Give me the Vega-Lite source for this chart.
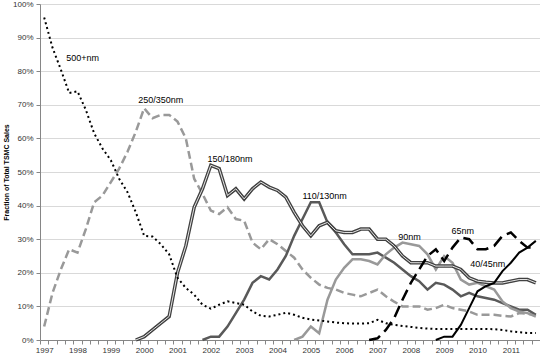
{
  "$schema": "https://vega.github.io/schema/vega-lite/v6.json",
  "width": 500,
  "height": 336,
  "autosize": "none",
  "padding": {"left": 40, "top": 4, "right": 0, "bottom": 16},
  "background": "white",
  "config": {"view": {"stroke": null}, "font": "Liberation Sans"},
  "datasets": {
    "nodes": [
      {"t": 1997, "n500": 96, "n350": 4},
      {"t": 1997.25, "n500": 87, "n350": 14},
      {"t": 1997.5, "n500": 80.5, "n350": 21},
      {"t": 1997.75, "n500": 73.5, "n350": 27},
      {"t": 1998, "n500": 74, "n350": 26},
      {"t": 1998.25, "n500": 68.5, "n350": 33},
      {"t": 1998.5, "n500": 61.5, "n350": 41},
      {"t": 1998.75, "n500": 57, "n350": 43},
      {"t": 1999, "n500": 53.5, "n350": 47},
      {"t": 1999.25, "n500": 48, "n350": 51},
      {"t": 1999.5, "n500": 44, "n350": 56},
      {"t": 1999.75, "n500": 38, "n350": 62, "n180": 0},
      {"t": 2000, "n500": 31, "n350": 69, "n180": 1},
      {"t": 2000.25, "n500": 30.8, "n350": 66, "n180": 3},
      {"t": 2000.5, "n500": 28.5, "n350": 67, "n180": 5},
      {"t": 2000.75, "n500": 25.5, "n350": 67, "n180": 7},
      {"t": 2001, "n500": 18.5, "n350": 65, "n180": 20},
      {"t": 2001.25, "n500": 15.5, "n350": 60, "n180": 28},
      {"t": 2001.5, "n500": 13.5, "n350": 48, "n180": 39.5},
      {"t": 2001.75, "n500": 10.5, "n350": 43.5, "n180": 45, "n130": 0},
      {"t": 2002, "n500": 9.3, "n350": 38.5, "n180": 52, "n130": 1},
      {"t": 2002.25, "n500": 10.5, "n350": 37.5, "n180": 51, "n130": 1},
      {"t": 2002.5, "n500": 11.5, "n350": 39.5, "n180": 43, "n130": 4},
      {"t": 2002.75, "n500": 11, "n350": 36, "n180": 45, "n130": 8},
      {"t": 2003, "n500": 10.5, "n350": 35.5, "n180": 42, "n130": 12},
      {"t": 2003.25, "n500": 8.5, "n350": 29, "n180": 45, "n130": 17},
      {"t": 2003.5, "n500": 7.2, "n350": 27, "n180": 47, "n130": 19},
      {"t": 2003.75, "n500": 7, "n350": 30, "n180": 45.5, "n130": 18},
      {"t": 2004, "n500": 7.5, "n350": 28.5, "n180": 44.5, "n130": 21},
      {"t": 2004.25, "n500": 8.1, "n350": 26.5, "n180": 42.5, "n130": 25},
      {"t": 2004.5, "n500": 7.5, "n350": 24.5, "n180": 38, "n130": 31, "n90": 0},
      {"t": 2004.75, "n500": 6.6, "n350": 21, "n180": 34, "n130": 36, "n90": 1},
      {"t": 2005, "n500": 6.1, "n350": 18.5, "n180": 31, "n130": 41, "n90": 4},
      {"t": 2005.25, "n500": 5.8, "n350": 16.5, "n180": 34, "n130": 41, "n90": 2},
      {"t": 2005.5, "n500": 5.5, "n350": 15.5, "n180": 35, "n130": 35, "n90": 12},
      {"t": 2005.75, "n500": 5.2, "n350": 15, "n180": 32.5, "n130": 32, "n90": 18},
      {"t": 2006, "n500": 5, "n350": 14, "n180": 32, "n130": 28.5, "n90": 21.5},
      {"t": 2006.25, "n500": 4.9, "n350": 13.5, "n180": 32, "n130": 25.5, "n90": 24},
      {"t": 2006.5, "n500": 4.9, "n350": 13, "n180": 33, "n130": 25.5, "n90": 24},
      {"t": 2006.75, "n500": 5, "n350": 14, "n180": 33, "n130": 25.5, "n90": 23.5, "n65": 0},
      {"t": 2007, "n500": 6, "n350": 15, "n180": 30, "n130": 26, "n90": 22.5, "n65": 0.5},
      {"t": 2007.25, "n500": 5, "n350": 13, "n180": 30, "n130": 24.5, "n90": 25.5, "n65": 3},
      {"t": 2007.5, "n500": 4.5, "n350": 11.4, "n180": 28, "n130": 23, "n90": 27.5, "n65": 6.5},
      {"t": 2007.75, "n500": 4.2, "n350": 10, "n180": 25, "n130": 21, "n90": 29, "n65": 12},
      {"t": 2008, "n500": 3.9, "n350": 10, "n180": 23, "n130": 19, "n90": 28.5, "n65": 17},
      {"t": 2008.25, "n500": 3.6, "n350": 10, "n180": 23, "n130": 17.5, "n90": 28, "n65": 21},
      {"t": 2008.5, "n500": 3.4, "n350": 9, "n180": 23, "n130": 15, "n90": 25.5, "n65": 25},
      {"t": 2008.75, "n500": 3.3, "n350": 9.5, "n180": 22, "n130": 17, "n90": 21, "n65": 27, "n45": 0},
      {"t": 2009, "n500": 3.3, "n350": 10.5, "n180": 22, "n130": 16.5, "n90": 25, "n65": 23.5, "n45": 1},
      {"t": 2009.25, "n500": 3.3, "n350": 9.5, "n180": 22, "n130": 15, "n90": 23, "n65": 27.5, "n45": 1},
      {"t": 2009.5, "n500": 3.3, "n350": 9, "n180": 21, "n130": 13, "n90": 18, "n65": 30.5, "n45": 4.5},
      {"t": 2009.75, "n500": 3.3, "n350": 8.5, "n180": 18.5, "n130": 14, "n90": 16.5, "n65": 30, "n45": 9.5},
      {"t": 2010, "n500": 3.3, "n350": 7.5, "n180": 17.5, "n130": 13, "n90": 17, "n65": 27, "n45": 14.5},
      {"t": 2010.25, "n500": 3.3, "n350": 7.5, "n180": 17.2, "n130": 12.5, "n90": 16, "n65": 27, "n45": 16},
      {"t": 2010.5, "n500": 3.2, "n350": 7.5, "n180": 17, "n130": 12, "n90": 15, "n65": 28, "n45": 17},
      {"t": 2010.75, "n500": 3, "n350": 7.2, "n180": 17, "n130": 11, "n90": 11.5, "n65": 31, "n45": 20.5},
      {"t": 2011, "n500": 2.6, "n350": 7, "n180": 17.5, "n130": 10, "n90": 9.5, "n65": 32, "n45": 23},
      {"t": 2011.25, "n500": 2.3, "n350": 8, "n180": 18, "n130": 9, "n90": 8.5, "n65": 29.5, "n45": 26},
      {"t": 2011.5, "n500": 2.1, "n350": 7.8, "n180": 18, "n130": 9, "n90": 8, "n65": 27.5, "n45": 27.5},
      {"t": 2011.75, "n500": 2.1, "n350": 7.5, "n180": 17, "n130": 7.5, "n90": 7, "n65": 27.5, "n45": 29.5}
    ],
    "labels": [
      {"label": "500+nm", "t": 1997.66, "value": 84},
      {"label": "250/350nm", "t": 1999.82, "value": 71.5},
      {"label": "150/180nm", "t": 2001.9, "value": 54},
      {"label": "110/130nm", "t": 2004.75, "value": 43},
      {"label": "90nm", "t": 2007.62, "value": 30.7},
      {"label": "65nm", "t": 2009.22, "value": 32.5},
      {"label": "40/45nm", "t": 2009.78, "value": 22.7}
    ]
  },
  "encoding": {
    "x": {"field": "t", "type": "quantitative", "scale": {"domain": [1996.875, 2011.875], "nice": false, "zero": false},
      "axis": {"values": [1996.875, 1997.125, 1997.375, 1997.625, 1997.875, 1998.125, 1998.375, 1998.625, 1998.875, 1999.125, 1999.375, 1999.625, 1999.875, 2000.125, 2000.375, 2000.625, 2000.875, 2001.125, 2001.375, 2001.625, 2001.875, 2002.125, 2002.375, 2002.625, 2002.875, 2003.125, 2003.375, 2003.625, 2003.875, 2004.125, 2004.375, 2004.625, 2004.875, 2005.125, 2005.375, 2005.625, 2005.875, 2006.125, 2006.375, 2006.625, 2006.875, 2007.125, 2007.375, 2007.625, 2007.875, 2008.125, 2008.375, 2008.625, 2008.875, 2009.125, 2009.375, 2009.625, 2009.875, 2010.125, 2010.375, 2010.625, 2010.875, 2011.125, 2011.375, 2011.625, 2011.875],
        "labelExpr": "(abs((datum.value % 1) - 0.875) < 0.01 && datum.value < 2011.5) ? format(datum.value + 0.125, 'd') : ''",
        "labelOffset": 4.17, "labelFlush": false, "labelOverlap": false, "labelBound": false,
        "grid": false, "domain": true, "domainColor": "#868686", "ticks": true, "tickSize": 4, "tickColor": "#868686",
        "labelPadding": 2, "labelFontSize": 8, "labelColor": "#333333", "labelAngle": 0, "title": null}},
    "y": {"field": "value", "type": "quantitative", "scale": {"domain": [0, 100], "nice": false},
      "axis": {"values": [0, 10, 20, 30, 40, 50, 60, 70, 80, 90, 100], "labelExpr": "datum.value + '%'", "grid": true, "gridColor": "#d9d9d9", "domainColor": "#868686", "tickColor": "#868686", "tickSize": 4, "labelPadding": 3, "labelFontSize": 8, "labelColor": "#333333", "title": "Fraction of Total TSMC Sales", "titleFontSize": 7, "titleFontWeight": "bold", "titleColor": "#000000", "titlePadding": 3}}
  },
  "layer": [
    {
      "data": {"name": "nodes"},
      "transform": [{"fold": ["n350"], "as": ["key", "value"]}, {"filter": "isValid(datum.value)"}],
      "mark": {"type": "line", "color": "#999999", "strokeWidth": 2.5, "strokeDash": [8, 4]}
    },
    {
      "data": {"name": "nodes"},
      "transform": [{"fold": ["n130"], "as": ["key", "value"]}, {"filter": "isValid(datum.value)"}],
      "mark": {"type": "line", "color": "#595959", "strokeWidth": 2.5}
    },
    {
      "data": {"name": "nodes"},
      "transform": [{"fold": ["n90"], "as": ["key", "value"]}, {"filter": "isValid(datum.value)"}],
      "mark": {"type": "line", "color": "#999999", "strokeWidth": 2.5}
    },
    {
      "data": {"name": "nodes"},
      "transform": [{"fold": ["n180"], "as": ["key", "value"]}, {"filter": "isValid(datum.value)"}],
      "mark": {"type": "line", "color": "#404040", "strokeWidth": 3.5}
    },
    {
      "data": {"name": "nodes"},
      "transform": [{"fold": ["n180"], "as": ["key", "value"]}, {"filter": "isValid(datum.value)"}],
      "mark": {"type": "line", "color": "#e6e6e6", "strokeWidth": 1}
    },
    {
      "data": {"name": "nodes"},
      "transform": [{"fold": ["n65"], "as": ["key", "value"]}, {"filter": "isValid(datum.value)"}],
      "mark": {"type": "line", "color": "#000000", "strokeWidth": 2.5, "strokeDash": [12, 6]}
    },
    {
      "data": {"name": "nodes"},
      "transform": [{"fold": ["n45"], "as": ["key", "value"]}, {"filter": "isValid(datum.value)"}],
      "mark": {"type": "line", "color": "#000000", "strokeWidth": 2}
    },
    {
      "data": {"name": "nodes"},
      "transform": [{"fold": ["n500"], "as": ["key", "value"]}, {"filter": "isValid(datum.value)"}],
      "mark": {"type": "line", "color": "#000000", "strokeWidth": 2, "strokeDash": [2, 3]}
    },
    {
      "data": {"name": "labels"},
      "mark": {"type": "text", "align": "left", "baseline": "middle", "fontSize": 9, "color": "#000000"},
      "encoding": {"text": {"field": "label"}}
    }
  ]
}
